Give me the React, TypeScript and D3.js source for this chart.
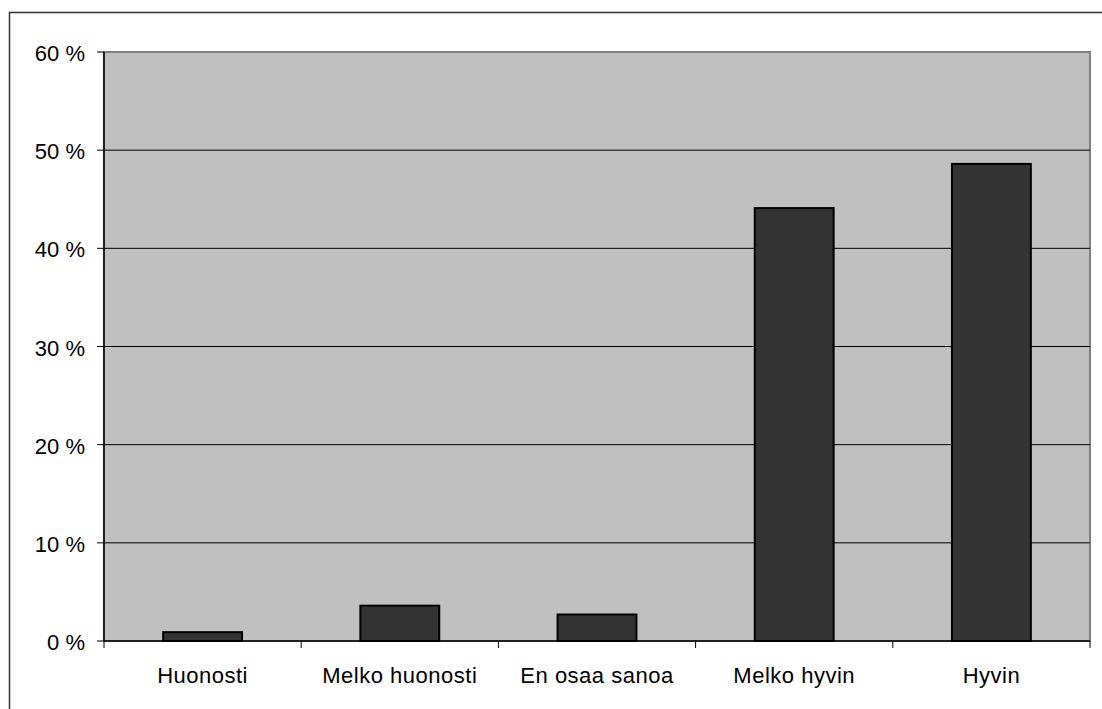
import { scaleBand, scaleLinear } from 'd3';

const categories = ['Huonosti', 'Melko huonosti', 'En osaa sanoa', 'Melko hyvin', 'Hyvin'];
const values = [0.9, 3.6, 2.7, 44.1, 48.6];
const yTicks = [0, 10, 20, 30, 40, 50, 60];

const W = 1102;
const H = 709;
const plot = { left: 104, top: 52, right: 1090, bottom: 641 };
const font = '"Liberation Sans", Arial, sans-serif';

export default function App() {
  const x = scaleBand<string>().domain(categories).range([plot.left, plot.right]).paddingInner(0.6).paddingOuter(0.3);
  const band = scaleBand<string>().domain(categories).range([plot.left, plot.right]);
  const y = scaleLinear().domain([0, 60]).range([plot.bottom, plot.top]);

  return (
    <svg width={W} height={H} style={{ position: 'absolute', left: 0, top: 0, background: '#fff' }}>
      {/* outer chart border (clipped on right/bottom in the reference) */}
      <rect x={9.5} y={12.5} width={W + 20} height={H + 20} fill="#fff" stroke="#333" strokeWidth={1.5} />

      {/* plot area */}
      <rect x={plot.left} y={plot.top} width={plot.right - plot.left} height={plot.bottom - plot.top} fill="#c0c0c0" stroke="#808080" strokeWidth={2} />

      {yTicks.map((t) => (
        <g key={t}>
          {t > 0 && t < 60 && (
            <line x1={plot.left} x2={plot.right} y1={y(t)} y2={y(t)} stroke="#000" strokeWidth={1} />
          )}
          <line x1={plot.left - 7} x2={plot.left} y1={y(t)} y2={y(t)} stroke="#000" strokeWidth={1} />
          <text x={85} y={y(t)} dy="0.41em" textAnchor="end" fontFamily={font} fontSize={22} fill="#000">
            {t} %
          </text>
        </g>
      ))}

      {categories.map((c, i) => (
        <rect
          key={c}
          x={x(c)}
          y={y(values[i])}
          width={x.bandwidth()}
          height={plot.bottom - y(values[i])}
          fill="#333333"
          stroke="#000"
          strokeWidth={2}
        />
      ))}

      {/* axes */}
      <line x1={plot.left} x2={plot.left} y1={plot.top} y2={plot.bottom} stroke="#000" strokeWidth={1.5} />
      <line x1={plot.left} x2={plot.right} y1={plot.bottom} y2={plot.bottom} stroke="#000" strokeWidth={1.5} />
      {[...categories.map((c) => band(c)!), plot.right].map((tx, i) => (
        <line key={i} x1={tx} x2={tx} y1={plot.bottom} y2={plot.bottom + 7} stroke="#000" strokeWidth={1} />
      ))}

      {categories.map((c) => (
        <text key={c} x={band(c)! + band.bandwidth() / 2} y={683} textAnchor="middle" fontFamily={font} fontSize={22} letterSpacing={0.5} fill="#000">
          {c}
        </text>
      ))}
    </svg>
  );
}
